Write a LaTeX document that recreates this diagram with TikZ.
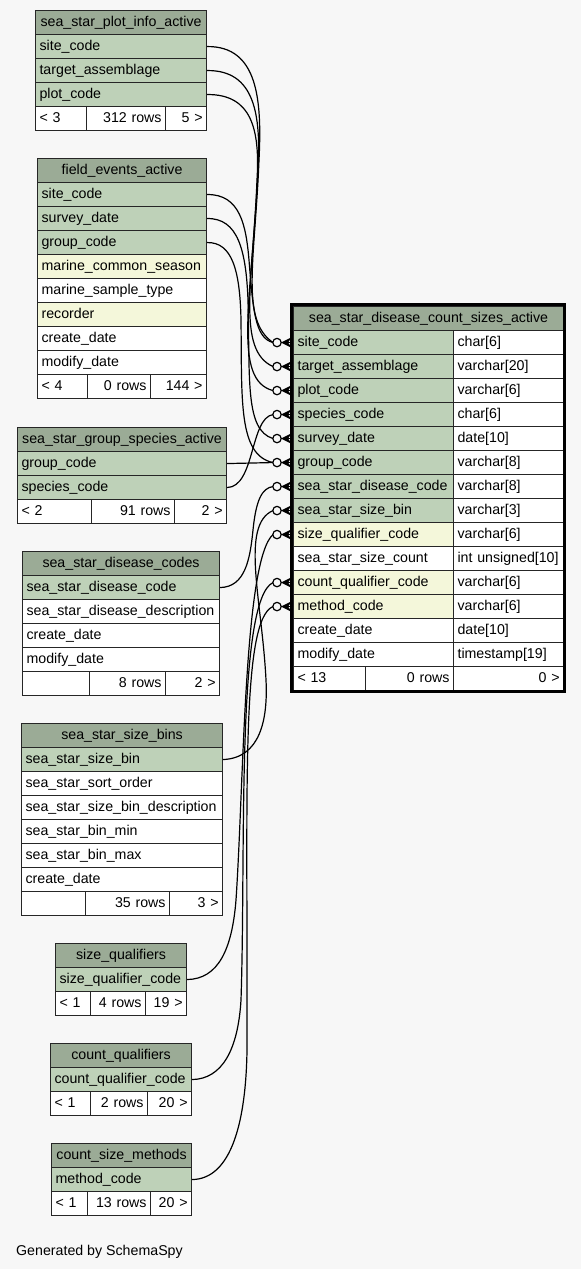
\documentclass[tikz,border=0pt]{standalone}
\usepackage{fontspec}
\setmainfont{Liberation Sans}
\definecolor{bg}{HTML}{F7F7F7}
\definecolor{headgreen}{HTML}{9BAB96}
\definecolor{keygreen}{HTML}{BED1B8}
\definecolor{idxyellow}{HTML}{F4F7DA}

\begin{document}
\begin{tikzpicture}[x=1pt,y=-1pt,font=\fontsize{14.2}{16}\selectfont,
  cell/.style={draw=black!85,line width=1.1pt,anchor=north west,minimum height=24pt,
    inner xsep=4pt,inner ysep=0pt,text height=10pt,text depth=3pt},
  head/.style={cell,fill=headgreen,align=center},
  key/.style={cell,fill=keygreen,align=left},
  idx/.style={cell,fill=idxyellow,align=left},
  plain/.style={cell,fill=white,align=left},
  foot/.style={cell,fill=white,align=right},
  fk/.style={line width=1.2pt}]
  \fill[bg] (0,0) rectangle (581,1269);
  \useasboundingbox (0,0) rectangle (581,1269);

  % sea_star_plot_info_active
  \node[head,text width=163pt] (pi) at (35,10) {sea\_star\_plot\_info\_active};
  \foreach \i/\lbl in {1/site\_code,2/target\_assemblage,3/plot\_code}
    \node[key,text width=163pt] (pi-\i) at (35,10+24*\i) {\lbl};
  \node[plain,text width=43pt] (pi-f1) at (35,106) {< 3};
  \node[foot,text width=71pt] (pi-f2) at (86,106) {312 rows};
  \node[foot,text width=33pt] (pi-f3) at (165,106) {5 >};

  % field_events_active
  \node[head,text width=161pt] (fe) at (37,158) {field\_events\_active};
  \foreach \i/\lbl/\s in {1/site\_code/key,2/survey\_date/key,3/group\_code/key,
      4/marine\_common\_season/idx,5/marine\_sample\_type/plain,6/recorder/idx,
      7/create\_date/plain,8/modify\_date/plain}
    \node[\s,text width=161pt] (fe-\i) at (37,158+24*\i) {\lbl};
  \node[plain,text width=42pt] (fe-f1) at (37,374) {< 4};
  \node[foot,text width=55pt] (fe-f2) at (87,374) {0 rows};
  \node[foot,text width=48pt] (fe-f3) at (150,374) {144 >};

  % sea_star_group_species_active
  \node[head,text width=201pt] (gs) at (17,427) {sea\_star\_group\_species\_active};
  \foreach \i/\lbl in {1/group\_code,2/species\_code}
    \node[key,text width=201pt] (gs-\i) at (17,427+24*\i) {\lbl};
  \node[plain,text width=66pt] (gs-f1) at (17,499) {< 2};
  \node[foot,text width=75pt] (gs-f2) at (91,499) {91 rows};
  \node[foot,text width=44pt] (gs-f3) at (174,499) {2 >};

  % sea_star_disease_codes
  \node[head,text width=189pt] (dc) at (22,551) {sea\_star\_disease\_codes};
  \foreach \i/\lbl/\s in {1/sea\_star\_disease\_code/key,
      2/sea\_star\_disease\_description/plain,3/create\_date/plain,4/modify\_date/plain}
    \node[\s,text width=189pt] (dc-\i) at (22,551+24*\i) {\lbl};
  \node[plain,text width=59pt] (dc-f1) at (22,671) {};
  \node[foot,text width=68pt] (dc-f2) at (89,671) {8 rows};
  \node[foot,text width=46pt] (dc-f3) at (165,671) {2 >};

  % sea_star_size_bins
  \node[head,text width=193pt] (sb) at (21,723) {sea\_star\_size\_bins};
  \foreach \i/\lbl/\s in {1/sea\_star\_size\_bin/key,2/sea\_star\_sort\_order/plain,
      3/sea\_star\_size\_bin\_description/plain,4/sea\_star\_bin\_min/plain,
      5/sea\_star\_bin\_max/plain,6/create\_date/plain}
    \node[\s,text width=193pt] (sb-\i) at (21,723+24*\i) {\lbl};
  \node[plain,text width=56pt] (sb-f1) at (21,891) {};
  \node[foot,text width=76pt] (sb-f2) at (85,891) {35 rows};
  \node[foot,text width=45pt] (sb-f3) at (169,891) {3 >};

  % size_qualifiers
  \node[head,text width=123pt] (sq) at (55,943) {size\_qualifiers};
  \node[key,text width=123pt] (sq-1) at (55,967) {size\_qualifier\_code};
  \node[plain,text width=27pt] (sq-f1) at (55,991) {< 1};
  \node[foot,text width=47pt] (sq-f2) at (90,991) {4 rows};
  \node[foot,text width=33pt] (sq-f3) at (145,991) {19 >};

  % count_qualifiers
  \node[head,text width=133pt] (cq) at (50,1043) {count\_qualifiers};
  \node[key,text width=133pt] (cq-1) at (50,1067) {count\_qualifier\_code};
  \node[plain,text width=32pt] (cq-f1) at (50,1091) {< 1};
  \node[foot,text width=49pt] (cq-f2) at (90,1091) {2 rows};
  \node[foot,text width=36pt] (cq-f3) at (147,1091) {20 >};

  % count_size_methods
  \node[head,text width=132pt] (cm) at (51,1143) {count\_size\_methods};
  \node[key,text width=132pt] (cm-1) at (51,1167) {method\_code};
  \node[plain,text width=28pt] (cm-f1) at (51,1191) {< 1};
  \node[foot,text width=55pt] (cm-f2) at (87,1191) {13 rows};
  \node[foot,text width=33pt] (cm-f3) at (150,1191) {20 >};

  % sea_star_disease_count_sizes_active
  \node[head,text width=262pt] (m) at (293,306) {sea\_star\_disease\_count\_sizes\_active};
  \foreach \i/\lbl/\s/\typ in {1/site\_code/key/char[6],2/target\_assemblage/key/varchar[20],
      3/plot\_code/key/varchar[6],4/species\_code/key/char[6],5/survey\_date/key/date[10],
      6/group\_code/key/varchar[8],7/sea\_star\_disease\_code/key/varchar[8],
      8/sea\_star\_size\_bin/key/varchar[3],9/size\_qualifier\_code/idx/varchar[6],
      10/sea\_star\_size\_count/plain/int unsigned[10],11/count\_qualifier\_code/idx/varchar[6],
      12/method\_code/idx/varchar[6],13/create\_date/plain/date[10],
      14/modify\_date/plain/timestamp[19]} {
    \node[\s,text width=152pt] (m-\i) at (293,306+24*\i) {\lbl};
    \node[plain,text width=102pt] (mt-\i) at (453,306+24*\i) {\typ};
  }
  \node[plain,text width=64pt] (m-f1) at (293,666) {< 13};
  \node[foot,text width=80pt] (m-f2) at (365,666) {0 rows};
  \node[foot,text width=102pt] (m-f3) at (453,666) {0 >};
  \draw[line width=3pt] (291.5,304.5) rectangle (564.5,691.5);

  % relationships
  \draw[fk] (pi-1.east) .. controls (258,46) and (262,100) .. (259,160)
    .. controls (255,260) and (240,320) .. ([xshift=-20pt]m-1.west);
  \draw[fk] (pi-2.east) .. controls (255,70) and (261,115) .. (258,170)
    .. controls (253,280) and (236,350) .. ([xshift=-20pt]m-2.west);
  \draw[fk] (pi-3.east) .. controls (252,94) and (260,130) .. (257,180)
    .. controls (252,300) and (232,380) .. ([xshift=-20pt]m-3.west);
  \draw[fk] (fe-1.east) .. controls (240,194) and (246,225) .. (249,260)
    .. controls (253,310) and (255,338) .. ([xshift=-20pt]m-1.west);
  \draw[fk] (fe-2.east) .. controls (238,218) and (246,250) .. (248,300)
    .. controls (250,380) and (245,430) .. ([xshift=-20pt]m-5.west);
  \draw[fk] (fe-3.east) .. controls (232,242) and (240,270) .. (241,320)
    .. controls (242,400) and (238,455) .. ([xshift=-20pt]m-6.west);
  \draw[fk] (gs-1.east) -- ([xshift=-20pt]m-6.west);
  \draw[fk] (gs-2.east) .. controls (255,487) and (250,418) .. ([xshift=-20pt]m-4.west);
  \draw[fk] (dc-1.east) .. controls (245,587) and (250,560) .. (253,530)
    .. controls (256,500) and (262,488) .. ([xshift=-20pt]m-7.west);
  \draw[fk] (sb-1.east) .. controls (260,758) and (268,720) .. (266,680)
    .. controls (262,600) and (240,525) .. ([xshift=-20pt]m-8.west);
  \draw[fk] (sq-1.east) .. controls (218,979) and (232,950) .. (236,900)
    .. controls (244,780) and (244,560) .. ([xshift=-20pt]m-9.west);
  \draw[fk] (cq-1.east) .. controls (222,1079) and (238,1050) .. (241,1000)
    .. controls (246,850) and (236,600) .. ([xshift=-20pt]m-11.west);
  \draw[fk] (cm-1.east) .. controls (232,1179) and (246,1120) .. (247,1050)
    .. controls (248,800) and (240,620) .. ([xshift=-20pt]m-12.west);
  \foreach \r in {1,...,9,11,12} {
    \draw[fk] ([xshift=-12pt]m-\r.west) -- (m-\r.west);
    \draw[fk,fill=bg] ([xshift=-16pt]m-\r.west) circle (4.2pt);
    \fill ([xshift=-12pt]m-\r.west) -- ([xshift=-1pt,yshift=5.5pt]m-\r.west)
      -- ([xshift=-5pt]m-\r.west) -- ([xshift=-1pt,yshift=-5.5pt]m-\r.west) -- cycle;
  }

  \node[anchor=base west,inner sep=0pt] (gen) at (16,1255) {Generated by SchemaSpy};
\end{tikzpicture}
\end{document}
